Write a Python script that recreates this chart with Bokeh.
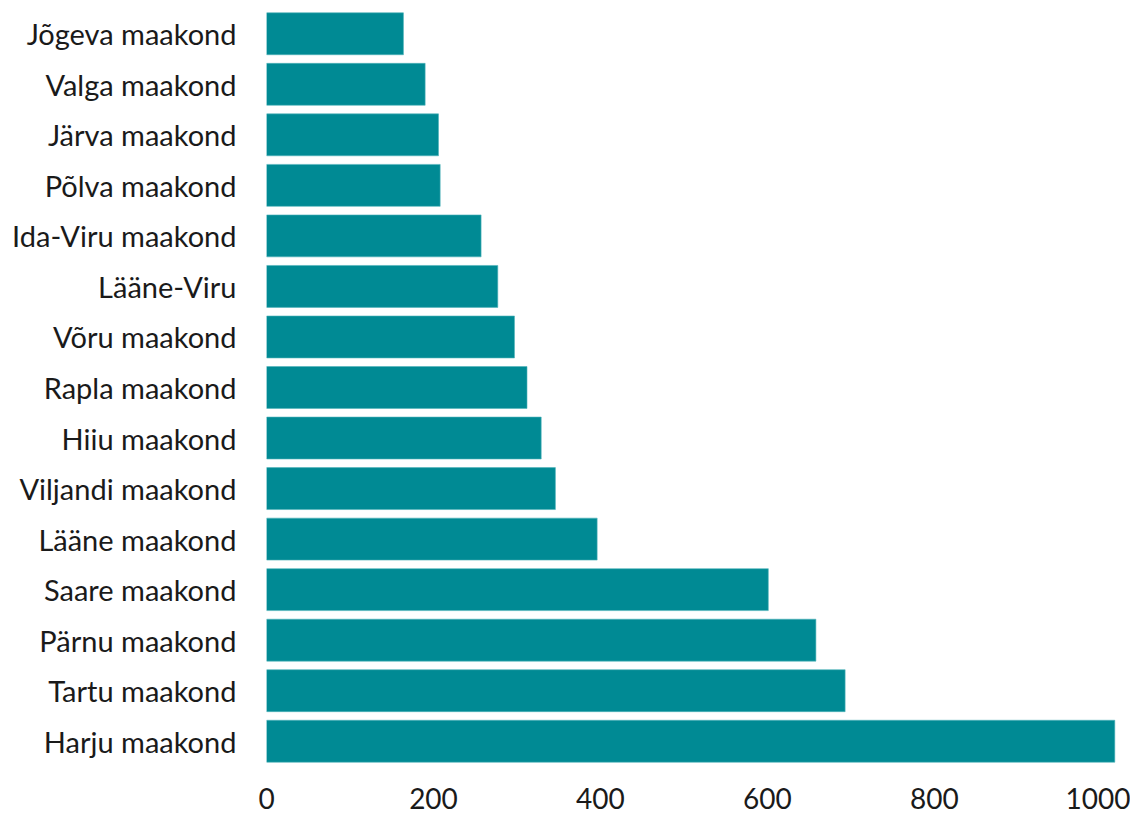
from bokeh.plotting import figure
from bokeh.models import FactorRange, Range1d, ColumnDataSource, FixedTicker
from bokeh.embed import file_html
from bokeh.resources import INLINE

counties = ["Jõgeva maakond", "Valga maakond", "Järva maakond", "Põlva maakond",
            "Ida-Viru maakond", "Lääne-Viru", "Võru maakond", "Rapla maakond",
            "Hiiu maakond", "Viljandi maakond", "Lääne maakond", "Saare maakond",
            "Pärnu maakond", "Tartu maakond", "Harju maakond"]
values = [164, 190, 206, 208, 257, 277, 297, 312, 329, 346, 396, 601, 658, 693, 1016]
x_ticks = [0, 200, 400, 600, 800, 1000]

FONT = "Lato"
BAR_COLOR = "#008A94"

source = ColumnDataSource(dict(county=counties, value=values))

p = figure(
    y_range=FactorRange(*reversed(counties), range_padding=0),
    x_range=Range1d(0, 1030),
    frame_width=860, frame_height=758,
    min_border_left=266, min_border_right=4, min_border_top=8, min_border_bottom=52,
    output_backend="svg", toolbar_location=None,
)
p.hbar(y="county", right="value", left=0, height=0.83, source=source,
       fill_color=BAR_COLOR, line_color="#4fb3ba", line_width=0.6)

p.outline_line_color = None
p.grid.visible = False
p.background_fill_color = "white"
p.border_fill_color = "white"

for ax in (p.xaxis, p.yaxis):
    ax.axis_line_color = None
    ax.major_tick_line_color = None
    ax.minor_tick_line_color = None
    ax.major_tick_out = 0
    ax.major_tick_in = 0
    ax.major_label_text_font = FONT
    ax.major_label_text_color = "#1a1a1a"

p.yaxis.major_label_text_font_size = "29px"
p.xaxis.major_label_text_font_size = "28px"
p.yaxis.major_label_standoff = 30
p.xaxis.major_label_standoff = 21
p.xaxis.ticker = FixedTicker(ticks=x_ticks)

open("out.html", "w").write(file_html(p, INLINE))
